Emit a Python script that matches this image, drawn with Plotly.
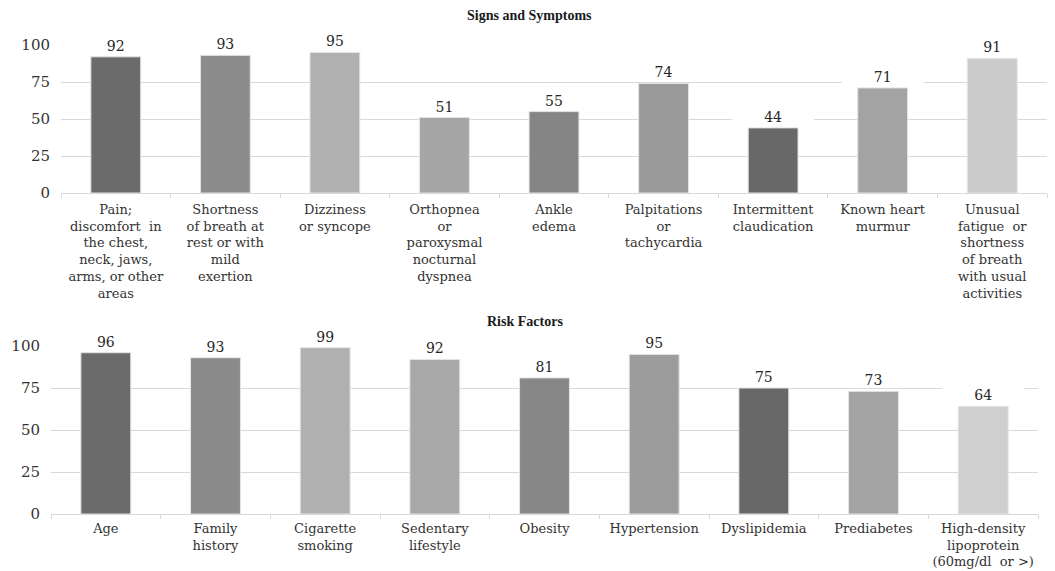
import plotly.graph_objects as go

# --- data -------------------------------------------------------------
symptom_labels = [
    "Pain;<br>discomfort  in<br>the chest,<br>neck, jaws,<br>arms, or other<br>areas",
    "Shortness<br>of breath at<br>rest or with<br>mild<br>exertion",
    "Dizziness<br>or syncope",
    "Orthopnea<br>or<br>paroxysmal<br>nocturnal<br>dyspnea",
    "Ankle<br>edema",
    "Palpitations<br>or<br>tachycardia",
    "Intermittent<br>claudication",
    "Known heart<br>murmur",
    "Unusual<br>fatigue  or<br>shortness<br>of breath<br>with usual<br>activities",
]
symptom_values = [92, 93, 95, 51, 55, 74, 44, 71, 91]

risk_labels = [
    "Age",
    "Family<br>history",
    "Cigarette<br>smoking",
    "Sedentary<br>lifestyle",
    "Obesity",
    "Hypertension",
    "Dyslipidemia",
    "Prediabetes",
    "High-density<br>lipoprotein<br>(60mg/dl  or >)",
]
risk_values = [96, 93, 99, 92, 81, 95, 75, 73, 64]

y_ticks = [0, 25, 50, 75, 100]

# --- styling ----------------------------------------------------------
symptom_colors = ["#6b6b6b", "#8c8c8c", "#b0b0b0", "#a6a6a6", "#858585",
                  "#9a9a9a", "#686868", "#a3a3a3", "#cbcbcb"]
risk_colors = ["#6b6b6b", "#8a8a8a", "#b0b0b0", "#a8a8a8", "#878787",
               "#9c9c9c", "#686868", "#a3a3a3", "#cfcfcf"]

SERIF = "Liberation Serif"
WIDE_SERIF = "DejaVu Serif"
GRID = "#d9d9d9"
W, H = 1055, 571


def px_x(a, b):
    return [a / W, b / W]


def px_y(top, bottom):
    return [(H - bottom) / H, (H - top) / H]


fig = go.Figure()

for labels, values, colors, xa, ya in [
    (symptom_labels, symptom_values, symptom_colors, "x", "y"),
    (risk_labels, risk_values, risk_colors, "x2", "y2"),
]:
    fig.add_trace(go.Bar(
        x=labels, y=values, xaxis=xa, yaxis=ya,
        marker=dict(color=colors, line=dict(color="#e4e4e4", width=1)),
        text=[str(v) for v in values], textposition="outside",
        textfont=dict(family=WIDE_SERIF, size=14, color="#262626"),
        constraintext="none", cliponaxis=False, showlegend=False,
        hoverinfo="skip",
    ))
    # white label boxes that interrupt the gridlines behind the value labels
    for i, v in enumerate(values):
        fig.add_shape(
            type="rect", xref=xa, yref=ya, layer="between",
            xsizemode="pixel", ysizemode="pixel",
            xanchor=i, yanchor=v,
            x0=-41, x1=41, y0=4, y1=26,
            fillcolor="white", line=dict(width=0),
        )

xaxis_common = dict(
    type="category", showgrid=False, showline=True, linecolor=GRID, linewidth=1,
    ticks="outside", tickson="boundaries", ticklen=4, tickcolor=GRID,
    tickangle=0,
    tickfont=dict(family=WIDE_SERIF, size=13, color="#333333"),
    fixedrange=True, automargin=False,
)
yaxis_common = dict(
    range=[0, 100], tickvals=y_ticks, showgrid=True, gridcolor=GRID, gridwidth=1,
    zeroline=False, showline=False, ticks="", ticklabelstandoff=10,
    tickfont=dict(family=WIDE_SERIF, size=15, color="#333333"),
    fixedrange=True, automargin=False,
)

fig.update_layout(
    width=W, height=H, margin=dict(l=0, r=0, t=0, b=0, autoexpand=False),
    paper_bgcolor="white", plot_bgcolor="white",
    bargap=0.545,
    xaxis=dict(**xaxis_common, domain=px_x(61, 1047), anchor="y", ticklabelstandoff=4),
    yaxis=dict(**yaxis_common, domain=px_y(45, 193), anchor="x"),
    xaxis2=dict(**xaxis_common, domain=px_x(51, 1038), anchor="y2", ticklabelstandoff=2),
    yaxis2=dict(**yaxis_common, domain=px_y(346, 514), anchor="x2"),
    annotations=[
        dict(text="<b>Signs and Symptoms</b>", xref="paper", yref="paper",
             x=529 / W, y=1 - 15 / H, xanchor="center", yanchor="middle",
             showarrow=False,
             font=dict(family=SERIF, size=14, color="#1a1a1a")),
        dict(text="<b>Risk Factors</b>", xref="paper", yref="paper",
             x=525 / W, y=1 - 321 / H, xanchor="center", yanchor="middle",
             showarrow=False,
             font=dict(family=SERIF, size=14, color="#1a1a1a")),
    ],
)

fig.write_html("out.html")
